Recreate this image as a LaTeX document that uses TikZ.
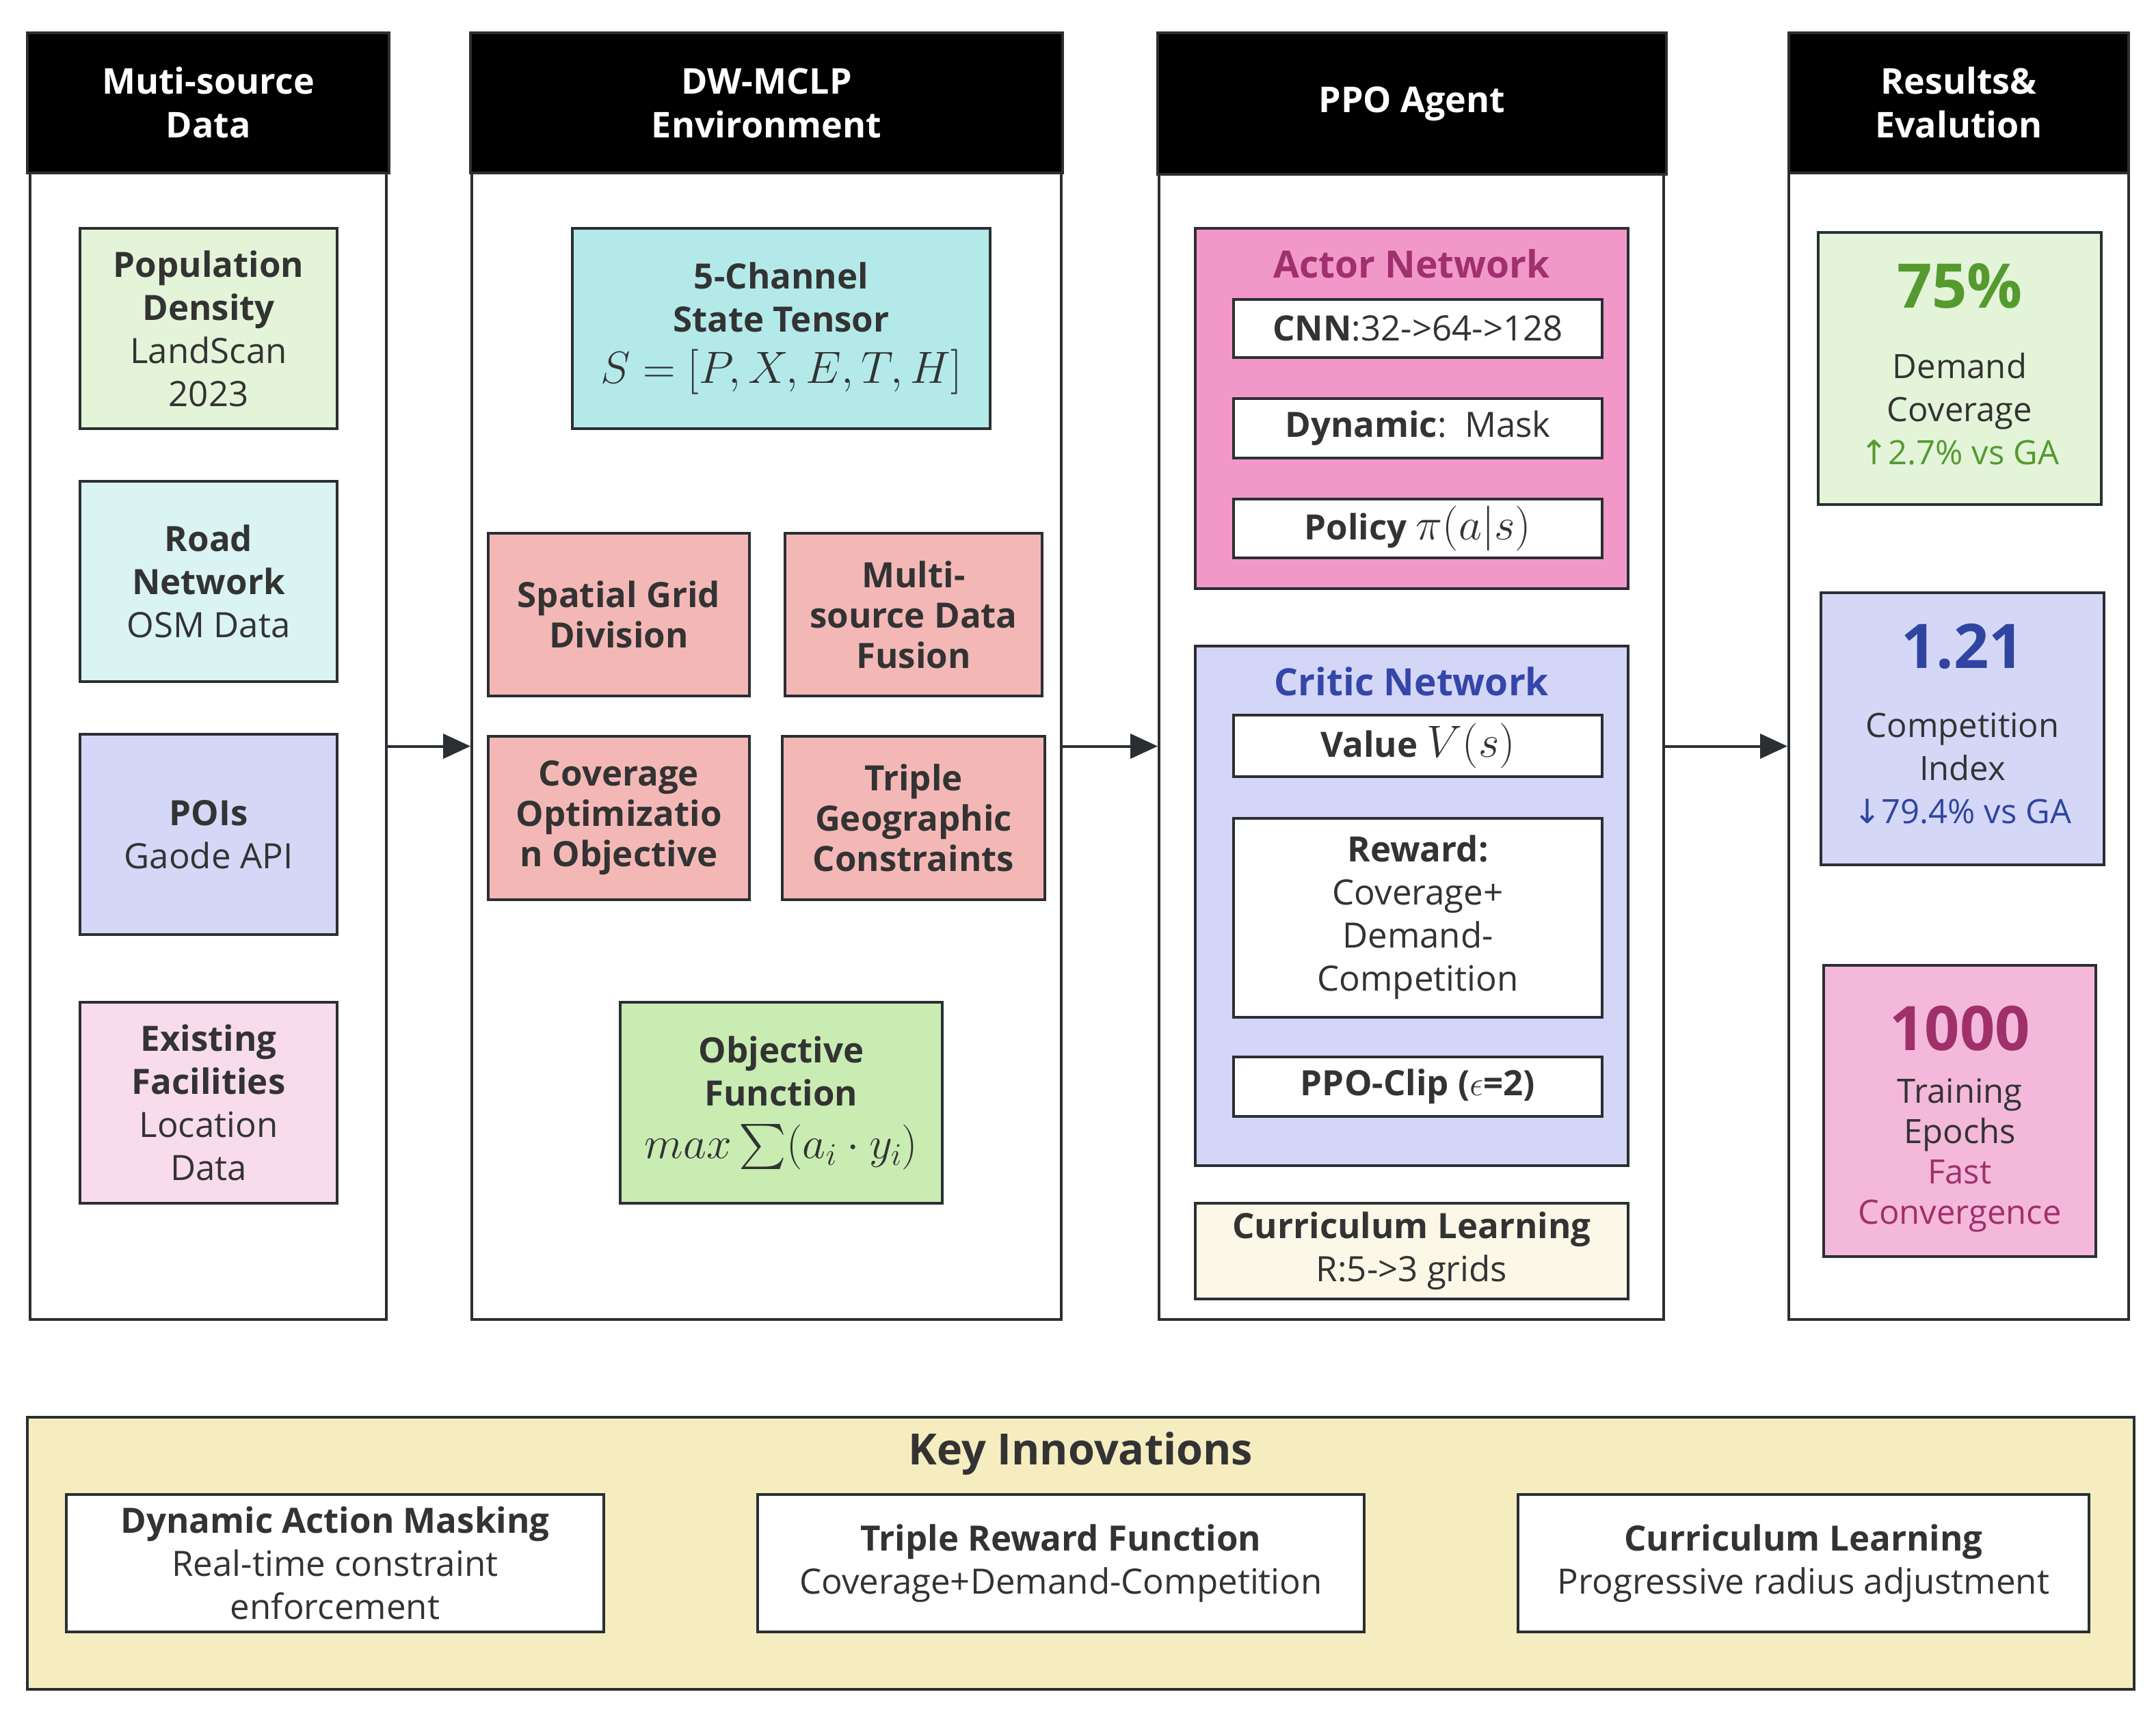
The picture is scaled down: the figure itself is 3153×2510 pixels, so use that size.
\RequirePackage{fix-cm}
\documentclass[tikz,border=0pt]{standalone}
\usepackage{exscale}
\usepackage{fontspec}
\setmainfont{Open Sans}
\newfontfamily\symfont{DejaVu Sans}
\DeclareFontShape{OMX}{cmex}{m}{n}{<->cmex10}{}
\usetikzlibrary{arrows.meta}
\definecolor{bord}{HTML}{2B2F33}
\definecolor{txt}{HTML}{333333}
\definecolor{popc}{HTML}{E3F4D9}
\definecolor{roadc}{HTML}{DAF3F3}
\definecolor{poic}{HTML}{D5D7F7}
\definecolor{exic}{HTML}{F8DCEB}
\definecolor{tensc}{HTML}{B4E9EA}
\definecolor{redc}{HTML}{F3B8B6}
\definecolor{objc}{HTML}{C9ECB3}
\definecolor{actc}{HTML}{F198C9}
\definecolor{critc}{HTML}{D3D6F7}
\definecolor{curc}{HTML}{FBF8E8}
\definecolor{onec}{HTML}{F4B8DB}
\definecolor{keyc}{HTML}{F5EDC0}
\definecolor{acttxt}{HTML}{A0306E}
\definecolor{crittxt}{HTML}{3446A8}
\definecolor{greentxt}{HTML}{559A2F}
\definecolor{bluetxt}{HTML}{2F45A0}
\definecolor{magtxt}{HTML}{A0306A}
\newcommand\fsz{\fontsize{51}{63}\selectfont}
\newcommand\rsz{\fontsize{51}{59}\selectfont}
\newcommand\esz{\fontsize{49}{63}\selectfont}
\newcommand\hsz{\fontsize{52}{64}\selectfont}
\newcommand\tsz{\fontsize{55}{64}\selectfont}
\newcommand\ksz{\fontsize{63}{70}\selectfont}
\newcommand\bsz{\fontsize{90}{100}\selectfont}
\newcommand\msz{\fontsize{66}{63}\selectfont}
\tikzset{
  hdr/.style={draw=bord, fill=black, line width=4pt, text=white, font=\hsz\bfseries, align=center, inner sep=0pt},
  colbody/.style={draw=bord, fill=white, line width=4pt, inner sep=0pt},
  bx/.style={draw=bord, line width=4pt, align=center, text=txt, font=\fsz, inner sep=0pt},
  redbx/.style={bx, fill=redc, font=\rsz\bfseries},
  wbx/.style={bx, fill=white},
  ttl/.style={font=\tsz\bfseries, inner sep=0pt},
  bignum/.style={font=\bsz\bfseries, inner sep=0pt},
  restxt/.style={font=\esz, text=txt, align=center, inner sep=0pt},
  arr/.style={draw=bord, line width=4pt, -{Triangle[length=40pt,width=36pt]}},
}
\begin{document}
\begin{tikzpicture}[x=1pt,y=-1pt]
\useasboundingbox[fill=white] (0,0) rectangle (3153,2510);

% Column 1
\node[colbody, minimum width=521pt, minimum height=1677pt] (c1body) at (304.5,1091.5) {};
\node[hdr, minimum width=529pt, minimum height=205pt] (c1hdr) at (304.5,150.5) {Muti-source\\Data};
\node[bx, fill=popc, minimum width=376pt, minimum height=293pt] (pop) at (305,480.5) {\textbf{Population}\\\textbf{Density}\\LandScan\\2023};
\node[bx, fill=roadc, minimum width=376pt, minimum height=293pt] (road) at (305,850.5) {\textbf{Road}\\\textbf{Network}\\OSM Data};
\node[bx, fill=poic, minimum width=376pt, minimum height=293pt] (poi) at (305,1220.5) {\textbf{POIs}\\Gaode API};
\node[bx, fill=exic, minimum width=376pt, minimum height=294pt] (exist) at (305,1613) {\textbf{Existing}\\\textbf{Facilities}\\Location\\Data};

% Column 2
\node[colbody, minimum width=862pt, minimum height=1677pt] (c2body) at (1121,1091.5) {};
\node[hdr, minimum width=866pt, minimum height=205pt] (c2hdr) at (1121,150.5) {DW-MCLP\\Environment};
\node[bx, fill=tensc, minimum width=611pt, minimum height=293pt] (tensor) at (1142.5,480.5) {\textbf{5-Channel}\\\textbf{State Tensor}\\[12pt]{\msz$S=[P,X,E,T,H]$}};
\node[redbx, minimum width=382pt, minimum height=238pt] (grid) at (905,899) {Spatial Grid\\Division};
\node[redbx, minimum width=376pt, minimum height=238pt] (fusion) at (1336,899) {Multi-\\source Data\\Fusion};
\node[redbx, minimum width=382pt, minimum height=239pt] (covobj) at (905,1196) {Coverage\\Optimizatio\\n Objective};
\node[redbx, minimum width=384pt, minimum height=239pt] (geo) at (1336,1196) {Triple\\Geographic\\Constraints};
\node[bx, fill=objc, minimum width=471pt, minimum height=294pt] (objf) at (1142.5,1613) {\textbf{Objective}\\\textbf{Function}\\[14pt]{\msz$max\sum(a_i\cdot y_i)$}};

% Column 3
\node[colbody, minimum width=738pt, minimum height=1677pt] (c3body) at (2064,1091.5) {};
\node[hdr, minimum width=744pt, minimum height=207pt] (c3hdr) at (2065,151.5) {PPO Agent};
\node[bx, fill=actc, minimum width=633pt, minimum height=527pt] (actor) at (2064.5,597.5) {};
\node[ttl, text=acttxt] (actort) at (2064.5,386) {Actor Network};
\node[wbx, minimum width=539pt, minimum height=85pt] (cnn) at (2073.5,480.5) {\textbf{CNN}:32->64->128};
\node[wbx, minimum width=539pt, minimum height=87pt] (dyn) at (2073.5,626.5) {\textbf{Dynamic}:\ \ Mask};
\node[wbx, minimum width=539pt, minimum height=86pt] (pol) at (2073.5,773) {\textbf{Policy} {\msz$\pi(a|s)$}};
\node[bx, fill=critc, minimum width=633pt, minimum height=760pt] (critic) at (2064.5,1325) {};
\node[ttl, text=crittxt] (critict) at (2064.5,997) {Critic Network};
\node[wbx, minimum width=539pt, minimum height=90pt] (val) at (2073.5,1091) {\textbf{Value} {\msz$V(s)$}};
\node[wbx, minimum width=539pt, minimum height=291pt] (rew) at (2073.5,1342) {\textbf{Reward:}\\Coverage+\\Demand-\\Competition};
\node[wbx, minimum width=539pt, minimum height=87pt] (clip) at (2073.5,1589.5) {\textbf{PPO-Clip (}$\epsilon$\textbf{=2)}};
\node[bx, fill=curc, minimum width=633pt, minimum height=140pt] (curr) at (2064.5,1830) {\textbf{Curriculum Learning}\\R:5->3 grids};

% Column 4
\node[colbody, minimum width=497pt, minimum height=1677pt] (c4body) at (2864.5,1091.5) {};
\node[hdr, minimum width=497pt, minimum height=205pt] (c4hdr) at (2864.5,150.5) {Results\&\\Evalution};
\node[bx, fill=popc, minimum width=414pt, minimum height=398pt] (res1) at (2866,539) {};
\node[bignum, text=greentxt] (res1n) at (2866,418) {75\%};
\node[restxt] (res1t) at (2866,598) {Demand\\Coverage\\{\color{greentxt}{\symfont↑}2.7\% vs GA}};
\node[bx, fill=poic, minimum width=414pt, minimum height=398pt] (res2) at (2870,1066) {};
\node[bignum, text=bluetxt] (res2n) at (2870,945) {1.21};
\node[restxt] (res2t) at (2870,1124) {Competition\\Index\\{\color{bluetxt}{\symfont↓}79.4\% vs GA}};
\node[bx, fill=onec, minimum width=398pt, minimum height=426pt] (res3) at (2866,1625) {};
\node[bignum, text=magtxt] (res3n) at (2866,1504) {1000};
\node[restxt, font=\fontsize{49}{59}\selectfont] (res3t) at (2866,1690) {Training\\Epochs\\{\color{magtxt}Fast}\\{\color{magtxt}Convergence}};

% Arrows
\draw[arr] (c1body.east) -- (c2body.west);
\draw[arr] (c2body.east) -- (c3body.west);
\draw[arr] (c3body.east) -- (c4body.west);

% Key innovations
\node[bx, fill=keyc, minimum width=3081pt, minimum height=398pt] (key) at (1580.5,2272) {};
\node[font=\ksz\bfseries, text=txt, inner sep=0pt] (keyt) at (1580.5,2126) {Key Innovations};
\node[wbx, minimum width=786pt, minimum height=201pt] (k1) at (490,2286.5) {\textbf{Dynamic Action Masking}\\Real-time constraint\\enforcement};
\node[wbx, minimum width=887pt, minimum height=201pt] (k2) at (1551.5,2286.5) {\textbf{Triple Reward Function}\\Coverage+Demand-Competition};
\node[wbx, minimum width=835pt, minimum height=201pt] (k3) at (2637.5,2286.5) {\textbf{Curriculum Learning}\\Progressive radius adjustment};
\end{tikzpicture}
\end{document}
